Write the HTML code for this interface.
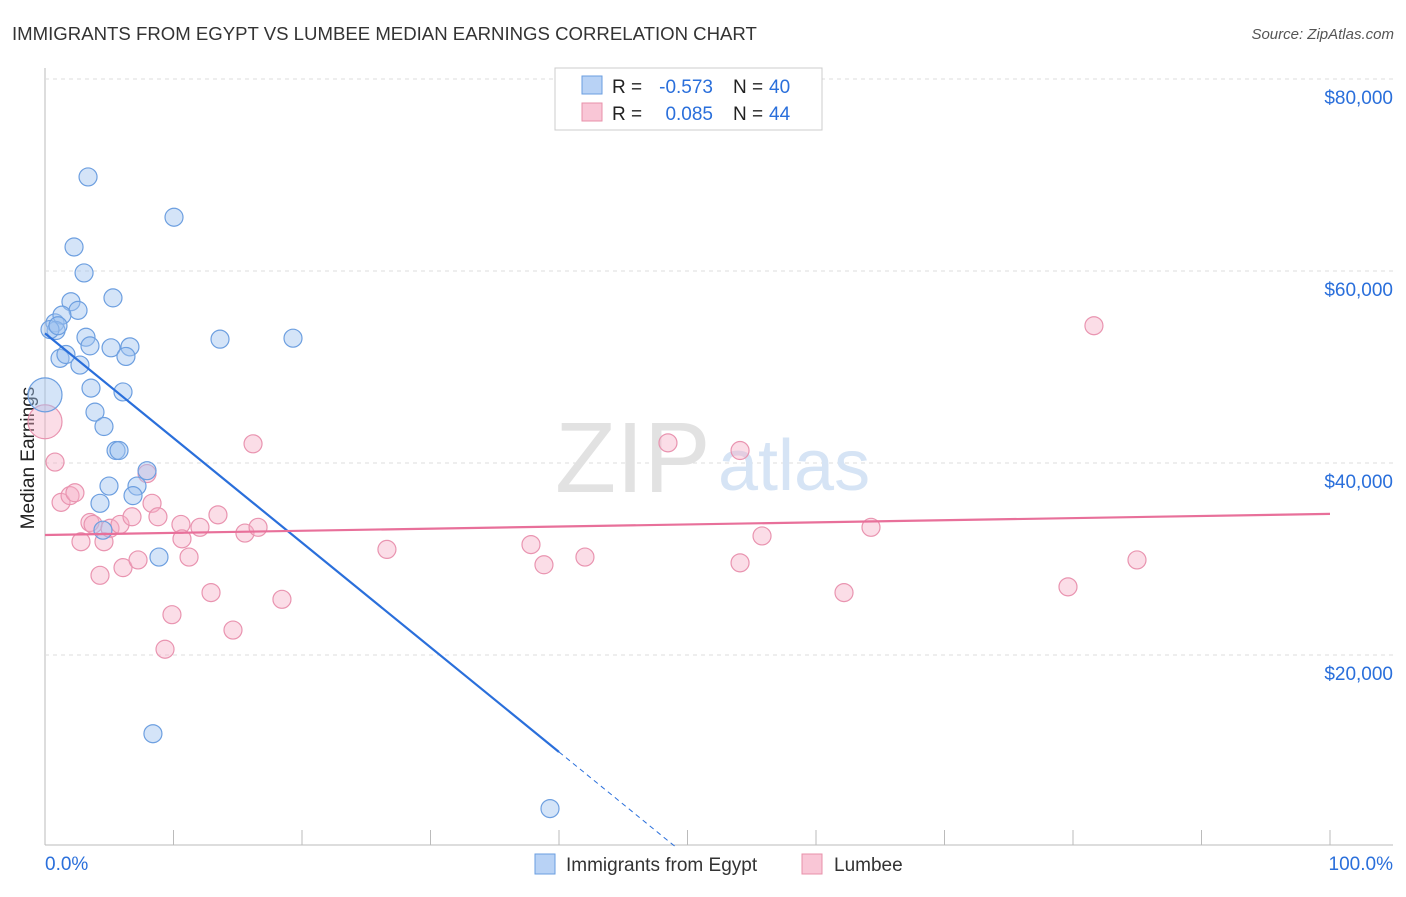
<!DOCTYPE html>
<html><head><meta charset="utf-8"><style>
body{margin:0;background:#fff;font-family:"Liberation Sans",sans-serif}
svg text{font-family:"Liberation Sans",sans-serif}
</style></head><body>
<svg id="chart" width="1406" height="892">
<text x="12" y="40" font-size="18.6" fill="#333">IMMIGRANTS FROM EGYPT VS LUMBEE MEDIAN EARNINGS CORRELATION CHART</text>
<text x="1394" y="39" font-size="15" fill="#555" text-anchor="end" font-style="italic">Source: ZipAtlas.com</text>
<text x="0" y="0" font-size="19" fill="#222" text-anchor="middle" transform="translate(34,458) rotate(-90)">Median Earnings</text>
<g id="grid"></g>
<text x="555" y="492" font-size="100" fill="#e2e2e2" font-family="Liberation Serif">ZIP</text>
<text x="718" y="490" font-size="72" fill="#d6e4f5">atlas</text>
<g id="marks"></g>
<g>
<rect x="555" y="68" width="267" height="62" fill="#fff" stroke="#ccc"/>
<rect x="582" y="76" width="20" height="18" fill="#b8d2f5" stroke="#6a9ee0"/>
<rect x="582" y="103" width="20" height="18" fill="#f9c6d6" stroke="#e890aa"/>
<text x="612" y="93" font-size="19" fill="#222">R =</text>
<text x="713" y="93" font-size="19" fill="#2a6fdb" text-anchor="end">-0.573</text>
<text x="733" y="93" font-size="19" fill="#222">N =</text>
<text x="769" y="93" font-size="19" fill="#2a6fdb">40</text>
<text x="612" y="120" font-size="19" fill="#222">R =</text>
<text x="713" y="120" font-size="19" fill="#2a6fdb" text-anchor="end">0.085</text>
<text x="733" y="120" font-size="19" fill="#222">N =</text>
<text x="769" y="120" font-size="19" fill="#2a6fdb">44</text>
</g>
<text x="45" y="870" font-size="19" fill="#2a6fdb">0.0%</text>
<text x="1393" y="870" font-size="19" fill="#2a6fdb" text-anchor="end">100.0%</text>
<g><rect x="535" y="854" width="20" height="20" fill="#b8d2f5" stroke="#6a9ee0"/><text x="566" y="871" font-size="19" fill="#333">Immigrants from Egypt</text></g>
<g><rect x="802" y="854" width="20" height="20" fill="#f9c6d6" stroke="#e890aa"/><text x="834" y="871" font-size="19" fill="#333">Lumbee</text></g>
</svg>
<script>
const yTicks=[20000,40000,60000,80000];
const yTickLabels=["$20,000","$40,000","$60,000","$80,000"];
const blueX=[3.35,10.04,2.26,3.04,2.02,2.57,5.29,0.78,1.32,0.86,3.19,3.5,5.14,6.61,6.3,1.17,1.63,2.72,13.62,19.3,0,3.58,6.07,3.89,4.59,5.53,5.76,4.98,7.16,7.94,4.28,6.85,4.51,8.87,8.4,39.3,0.39,1.01];
const blueY=[69.8,65.6,62.5,59.8,56.8,55.9,57.2,54.6,55.4,53.8,53.1,52.2,52.0,52.1,51.1,50.9,51.3,50.2,52.9,53.0,47.1,47.8,47.4,45.3,43.8,41.3,41.3,37.6,37.6,39.2,35.8,36.6,33.0,30.2,11.8,4.0,53.9,54.3];
const blueSize=[1,1,1,1,1,1,1,1,1,1,1,1,1,1,1,1,1,1,1,1,2,1,1,1,1,1,1,1,1,1,1,1,1,1,1,1,1,1];
const pinkX=[0,0.78,1.25,1.95,2.33,2.8,3.5,3.74,4.28,4.59,5.06,5.84,6.07,6.77,7.24,7.94,8.33,8.79,9.34,9.88,10.58,10.66,11.21,12.06,12.92,13.46,14.63,15.56,16.19,16.58,18.44,26.61,37.82,38.83,42.02,48.48,54.09,54.09,55.8,62.18,64.28,79.61,81.63,84.98];
const pinkY=[44.3,40.1,35.9,36.6,36.9,31.8,33.8,33.6,28.3,31.8,33.2,33.6,29.1,34.4,29.9,38.9,35.8,34.4,20.6,24.2,33.6,32.1,30.2,33.3,26.5,34.6,22.6,32.7,42.0,33.3,25.8,31.0,31.5,29.4,30.2,42.1,41.3,29.6,32.4,26.5,33.3,27.1,54.3,29.9];
const pinkSize=[2,1,1,1,1,1,1,1,1,1,1,1,1,1,1,1,1,1,1,1,1,1,1,1,1,1,1,1,1,1,1,1,1,1,1,1,1,1,1,1,1,1,1,1];
const blueTrend=[53.5,-1.09];
const pinkTrend=[32.5,0.022];
const NS='http://www.w3.org/2000/svg';
function xs(v){return 45+v*12.85;}
function ys(v){return 847-v*9.6;}
function mk(t,a,p){const e=document.createElementNS(NS,t);for(const k in a)e.setAttribute(k,a[k]);p.appendChild(e);return e;}
const grid=document.getElementById('grid'),marks=document.getElementById('marks');
mk('line',{x1:45,y1:68,x2:45,y2:845,stroke:'#bbb'},grid);
mk('line',{x1:45,y1:845,x2:1393,y2:845,stroke:'#bbb'},grid);
for(let i=0;i<=10;i++){const l=mk('line',{x1:xs(i*10),y1:830,x2:xs(i*10),y2:845,stroke:'#bbb'},grid);

}
yTicks.forEach((t,i)=>{const y=ys(t/1000);
const g=mk('line',{x1:45,y1:y,x2:1393,y2:y,stroke:'#ddd','stroke-dasharray':'4,4'},grid);


const tx=mk('text',{x:1393,y:y+25,'font-size':19,fill:'#2a6fdb','text-anchor':'end'},grid);
tx.textContent=yTickLabels[i];

});
pinkX.forEach((x,i)=>{const c=mk('circle',{cx:xs(x),cy:ys(pinkY[i]),r:pinkSize[i]>1?17:9,fill:'rgba(245,175,198,0.42)',stroke:'#e994b0','stroke-width':1.2},marks);

});
blueX.forEach((x,i)=>{const c=mk('circle',{cx:xs(x),cy:ys(blueY[i]),r:blueSize[i]>1?17:9,fill:'rgba(160,196,240,0.45)',stroke:'#6d9fe0','stroke-width':1.2},marks);

});
const bEnd=40,bZero=-blueTrend[0]/blueTrend[1];
const bl=mk('line',{x1:xs(0),y1:ys(blueTrend[0]),x2:xs(bEnd),y2:ys(blueTrend[0]+blueTrend[1]*bEnd),stroke:'#2a6fdb','stroke-width':2.2},marks);


const bd=mk('line',{x1:xs(bEnd),y1:ys(blueTrend[0]+blueTrend[1]*bEnd),x2:xs(bZero),y2:ys(0),stroke:'#2a6fdb','stroke-width':1,'stroke-dasharray':'5,4'},marks);


const pl=mk('line',{x1:xs(0),y1:ys(pinkTrend[0]),x2:xs(100),y2:ys(pinkTrend[0]+pinkTrend[1]*100),stroke:'#e8709a','stroke-width':2.2},marks);


</script>
</body></html>
